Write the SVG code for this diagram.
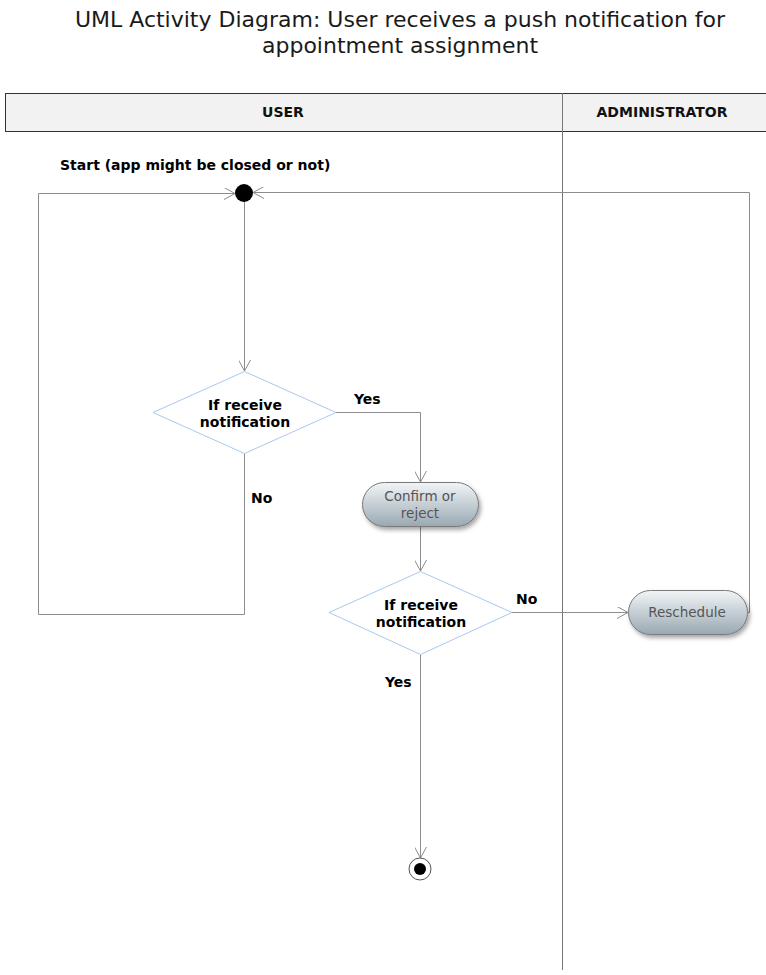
<svg xmlns="http://www.w3.org/2000/svg" width="766" height="975" viewBox="0 0 766 975">
<defs>
<style>
text{font-family:"DejaVu Sans","Liberation Sans",sans-serif;}
.title{font-size:22px;fill:#1a1a1a;text-anchor:middle;}
.hdr{font-size:14px;font-weight:bold;fill:#111;text-anchor:middle;}
.lbl{font-size:14px;font-weight:bold;fill:#000;}
.dtxt{font-size:14px;font-weight:bold;fill:#000;text-anchor:middle;}
.atxt{font-size:13.5px;fill:#555;text-anchor:middle;}
.conn{fill:none;stroke:#8c8c8c;stroke-width:1;}
.dia{fill:#fff;stroke:#a9c8f0;stroke-width:1;}
.act{fill:url(#g);stroke:#7a7a7a;stroke-width:1;filter:url(#sh);}
</style>
<linearGradient id="g" x1="0" y1="0" x2="0" y2="1">
<stop offset="0" stop-color="#f2f5f7"/>
<stop offset="1" stop-color="#99a8b2"/>
</linearGradient>
<filter id="sh" x="-20%" y="-30%" width="140%" height="170%">
<feDropShadow dx="2" dy="3" stdDeviation="2" flood-color="#000" flood-opacity="0.35"/>
</filter>
<marker id="arr" markerWidth="12" markerHeight="12" refX="11" refY="6" orient="auto" markerUnits="userSpaceOnUse">
<path d="M0,0 L11,6 L0,12" fill="none" stroke="#8c8c8c" stroke-width="1"/>
</marker>
</defs>
<rect width="766" height="975" fill="#fff"/>
<text class="title" x="400" y="27">UML Activity Diagram: User receives a push notification for</text>
<text class="title" x="400" y="53">appointment assignment</text>
<g id="lanes">
<rect x="5.5" y="93.5" width="770" height="38" fill="#f2f2f2" stroke="#333" stroke-width="1"/>
<line x1="562.5" y1="93" x2="562.5" y2="970" stroke="#777" stroke-width="1"/>
<text class="hdr" x="283" y="117">USER</text>
<text class="hdr" x="662" y="117">ADMINISTRATOR</text>
</g>
<g id="connectors">
<path class="conn" d="M244.5,202 V371" marker-end="url(#arr)"/>
<path class="conn" d="M336,412.5 H420.5 V482" marker-end="url(#arr)"/>
<path class="conn" d="M244.5,453 V614.5 H38.5 V193.5 H235" marker-end="url(#arr)"/>
<path class="conn" d="M420.5,527 V571" marker-end="url(#arr)"/>
<path class="conn" d="M512,612.5 H628" marker-end="url(#arr)"/>
<path class="conn" d="M748,612.5 H749.5 V192.5 H253" marker-end="url(#arr)"/>
<path class="conn" d="M420.5,654 V858" marker-end="url(#arr)"/>
<text class="lbl" x="354" y="404">Yes</text>
<text class="lbl" x="251" y="503">No</text>
<text class="lbl" x="516" y="604">No</text>
<text class="lbl" x="385" y="687">Yes</text>
</g>
<g id="start">
<text class="lbl" x="60" y="170">Start (app might be closed or not)</text>
<circle cx="244" cy="193" r="9" fill="#000"/>
</g>
<g id="decision1">
<polygon class="dia" points="244.5,371.5 336,412.5 244.5,453.5 153,412.5"/>
<text class="dtxt" x="245" y="410">If receive</text>
<text class="dtxt" x="245" y="427">notification</text>
</g>
<g id="confirm">
<rect class="act" x="362.5" y="482.5" width="116" height="44" rx="22" ry="22"/>
<text class="atxt" x="420" y="501">Confirm or</text>
<text class="atxt" x="420" y="518">reject</text>
</g>
<g id="decision2">
<polygon class="dia" points="420.5,571.5 512,612.5 420.5,654.5 329,612.5"/>
<text class="dtxt" x="421" y="610">If receive</text>
<text class="dtxt" x="421" y="627">notification</text>
</g>
<g id="reschedule">
<rect class="act" x="628.5" y="590.5" width="119" height="44" rx="22" ry="22"/>
<text class="atxt" x="687" y="617">Reschedule</text>
</g>
<g id="end">
<circle cx="420" cy="869" r="11" fill="#fff" stroke="#555" stroke-width="1"/>
<circle cx="420" cy="869" r="6" fill="#000"/>
</g>
</svg>
